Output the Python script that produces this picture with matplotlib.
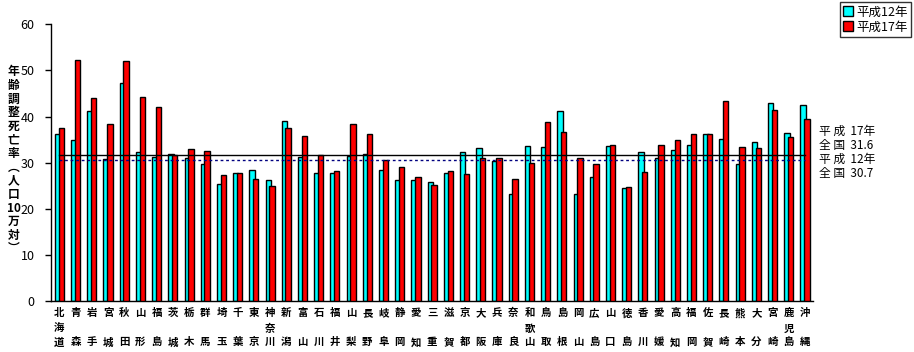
import matplotlib
matplotlib.use("Agg")
import matplotlib.pyplot as plt
import numpy as np
from matplotlib.patches import Patch

plt.rcParams["font.family"] = ["Noto Sans CJK JP", "DejaVu Sans"]

prefectures = [
    "北海道", "青森", "岩手", "宮城", "秋田", "山形", "福島", "茨城", "栃木", "群馬",
    "埼玉", "千葉", "東京", "神奈川", "新潟", "富山", "石川", "福井", "山梨", "長野",
    "岐阜", "静岡", "愛知", "三重", "滋賀", "京都", "大阪", "兵庫", "奈良", "和歌山",
    "鳥取", "島根", "岡山", "広島", "山口", "徳島", "香川", "愛媛", "高知", "福岡",
    "佐賀", "長崎", "熊本", "大分", "宮崎", "鹿児島", "沖縄",
]
h12 = [
    36.2, 34.9, 41.2, 30.8, 47.2, 32.3, 31.2, 31.8, 31.0, 29.7,
    25.4, 27.7, 28.4, 26.2, 39.0, 31.2, 27.7, 27.7, 31.4, 31.8,
    28.4, 26.2, 26.2, 25.8, 27.7, 32.3, 33.1, 30.3, 23.2, 33.6,
    33.4, 41.2, 23.2, 26.9, 33.6, 24.5, 32.3, 31.0, 32.7, 33.8,
    36.2, 35.1, 29.7, 34.4, 42.9, 36.4, 42.5,
]
h17 = [
    37.5, 52.2, 44.0, 38.3, 52.0, 44.2, 42.0, 31.6, 32.9, 32.5,
    27.4, 27.7, 26.4, 24.9, 37.5, 35.7, 31.6, 28.2, 38.3, 36.2,
    30.5, 29.0, 26.9, 25.3, 28.2, 27.5, 31.0, 31.0, 26.4, 29.9,
    38.8, 36.6, 31.0, 29.7, 33.8, 24.7, 27.9, 33.8, 34.9, 36.2,
    36.2, 43.3, 33.4, 33.1, 41.4, 35.5, 39.4,
]
national_h17 = 31.6
national_h12 = 30.7
y_label = ["年", "齢", "調", "整", "死", "亡", "率", "︵", "人", "口", "10", "万", "対", "︶"]

fig = plt.figure(figsize=(9.14, 3.52), dpi=100)
ax = fig.add_axes([0.0561, 0.144, 0.8335, 0.787])

x = np.arange(len(prefectures))
w = 0.33
ax.bar(x - 0.115, h12, width=w, color="#00ffff", edgecolor="black", linewidth=1, zorder=2)
ax.bar(x + 0.115, h17, width=w, color="#ff0000", edgecolor="black", linewidth=1, zorder=3)

ax.plot([x[0], x[-1]], [national_h17] * 2, color="black", linewidth=1, zorder=4)
ax.plot([x[0], x[-1]], [national_h12] * 2, color="#000080", linewidth=1,
        linestyle=(0, (2, 2)), zorder=4)

ax.set_xlim(-0.5, len(prefectures) - 0.5)
ax.set_ylim(0, 60)
ax.set_yticks(range(0, 61, 10))
ax.tick_params(axis="y", labelsize=9, length=4, width=1, pad=8)
ax.tick_params(axis="x", length=0, labelbottom=False)
for side in ("top", "right"):
    ax.spines[side].set_visible(False)
ax.spines["left"].set_linewidth(1)
ax.spines["bottom"].set_linewidth(1)

# vertical prefecture names below the axis
for i, name in enumerate(prefectures):
    if len(name) == 3:
        rows = list(name)
    else:
        rows = [name[0], "", name[1]]
    for r, ch in enumerate(rows):
        if ch:
            ax.annotate(ch, (i, 0), xytext=(0, -[12, 28, 41][r]),
                        textcoords="offset pixels", ha="center", va="center",
                        fontsize=7.5, fontweight="bold")

# vertical y label
for k, ch in enumerate(y_label):
    fig.text(0.015, 1 - (72 + k * 13.6) / 352, ch, ha="center", va="center",
             fontsize=8.5, fontweight="bold")

notes = ["平 成  17年", "全 国  31.6", "平 成  12年", "全 国  30.7"]
for k, t in enumerate(notes):
    fig.text(0.896, 1 - (131 + k * 14.2) / 352, t, ha="left", va="center", fontsize=8.5)

handles = [Patch(facecolor="#00ffff", edgecolor="black", label="平成12年"),
           Patch(facecolor="#ff0000", edgecolor="black", label="平成17年")]
leg = fig.legend(handles=handles, loc="upper right", bbox_to_anchor=(0.997, 0.993),
                 fontsize=9, frameon=True, fancybox=False, handlelength=0.8,
                 handleheight=0.8, handletextpad=0.3, borderpad=0.25,
                 labelspacing=0.15, borderaxespad=0)
leg.get_frame().set_edgecolor("black")
leg.get_frame().set_linewidth(1)

fig.savefig("out.png", dpi=100)
